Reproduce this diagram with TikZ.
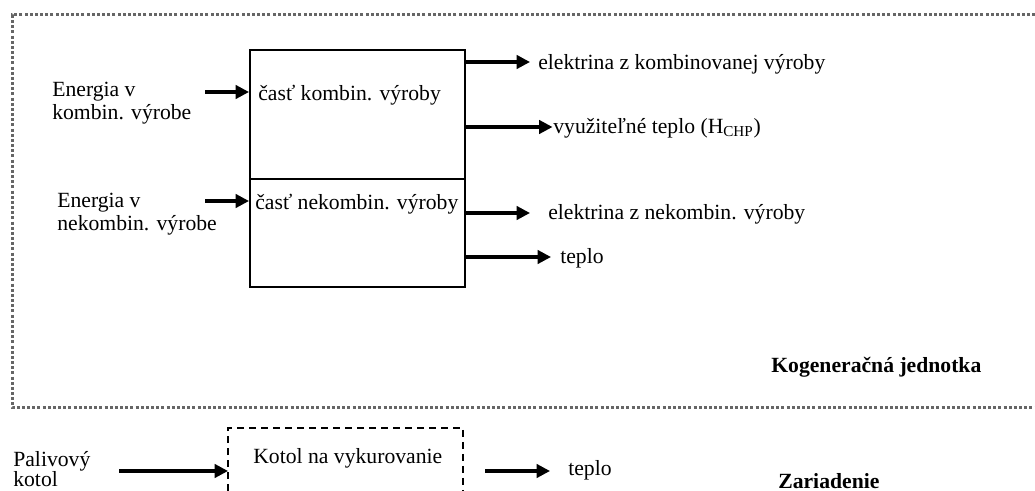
\documentclass[tikz,border=0pt]{standalone}
\usepackage{fontspec}
\setmainfont{Liberation Serif}
\usetikzlibrary{arrows.meta,positioning}

\begin{document}
\begin{tikzpicture}[x=0.6pt,y=-0.6pt,font=\fontsize{13}{13.5}\selectfont,
  flow/.style={line width=1.9pt,-{Triangle[length=8pt,width=8pt]}},
  txt/.style={anchor=west,inner sep=0pt,align=left},
  part/.style={draw,line width=1pt,anchor=north west,minimum width=129pt,inner sep=0pt}]
\useasboundingbox (0,0) rectangle (1035,491);
% frame of the unit
\draw[black!60,line width=1.8pt,dash pattern=on 1.8pt off 1.3pt] (1035,15) -- (12,15) -- (12,408) -- (1035,408);
\node[part,minimum height=77.4pt] (kombi) at (249,49) {};
\node[part,minimum height=64.8pt] (nekombi) at (249,178) {};
\node[txt] (kombitxt) at (258,95) {časť kombin. výroby};
\node[txt] (nekombitxt) at (255,204) {časť nekombin. výroby};
% inputs
\node[txt] (ekombi) at (52,103) {Energia v\\kombin. výrobe};
\node[txt] (enekombi) at (57,214) {Energia v\\nekombin. výrobe};
\coordinate (ekombi0) at (205,92);
\coordinate (enekombi0) at (205,201);
\draw[flow] (ekombi0) -- (ekombi0 -| kombi.west);
\draw[flow] (enekombi0) -- (enekombi0 -| nekombi.west);
% outputs
\node[txt] (elkombi) at (538,64) {elektrina z kombinovanej výroby};
\node[txt] (hchp) at (553,128) {využiteľné teplo (H\textsubscript{CHP})};
\node[txt] (elnekombi) at (548,214) {elektrina z nekombin. výroby};
\node[txt] (teplo) at (560,258) {teplo};
\draw[flow] (kombi.east |- 0,62) -- ([xshift=-4.8pt]elkombi.west |- 0,62);
\draw[flow] (kombi.east |- 0,127) -- ([xshift=-0.3pt]hchp.west |- 0,127);
\draw[flow] (nekombi.east |- 0,213) -- ([xshift=-10.8pt]elnekombi.west |- 0,213);
\draw[flow] (nekombi.east |- 0,257) -- ([xshift=-5.4pt]teplo.west |- 0,257);
\node[txt,font=\fontsize{13}{13.5}\selectfont\bfseries] (kj) at (771,367) {Kogeneračná jednotka};
% boiler
\node[txt] (palivo) at (13,469) {Palivový\\[-2pt]kotol};
\node[txt] (kotol) at (253,458) {Kotol na vykurovanie};
\coordinate (kotolL) at (228,428);
\coordinate (kotolR) at (463,428);
\draw[line width=1.3pt,dash pattern=on 4.2pt off 3pt] (kotolL |- 0,491) -- (kotolL) -- (kotolR) -- (kotolR |- 0,491);
\coordinate (palivo0) at (119,471);
\draw[flow] (palivo0) -- (palivo0 -| kotolL);
\node[txt] (teplo2) at (568,470) {teplo};
\coordinate (teplo20) at (485,471);
\draw[flow] (teplo20) -- ([xshift=-10.8pt]teplo2.west |- teplo20);
\node[txt,font=\fontsize{13}{13.5}\selectfont\bfseries] (zar) at (778,481) {Zariadenie};
\end{tikzpicture}
\end{document}
